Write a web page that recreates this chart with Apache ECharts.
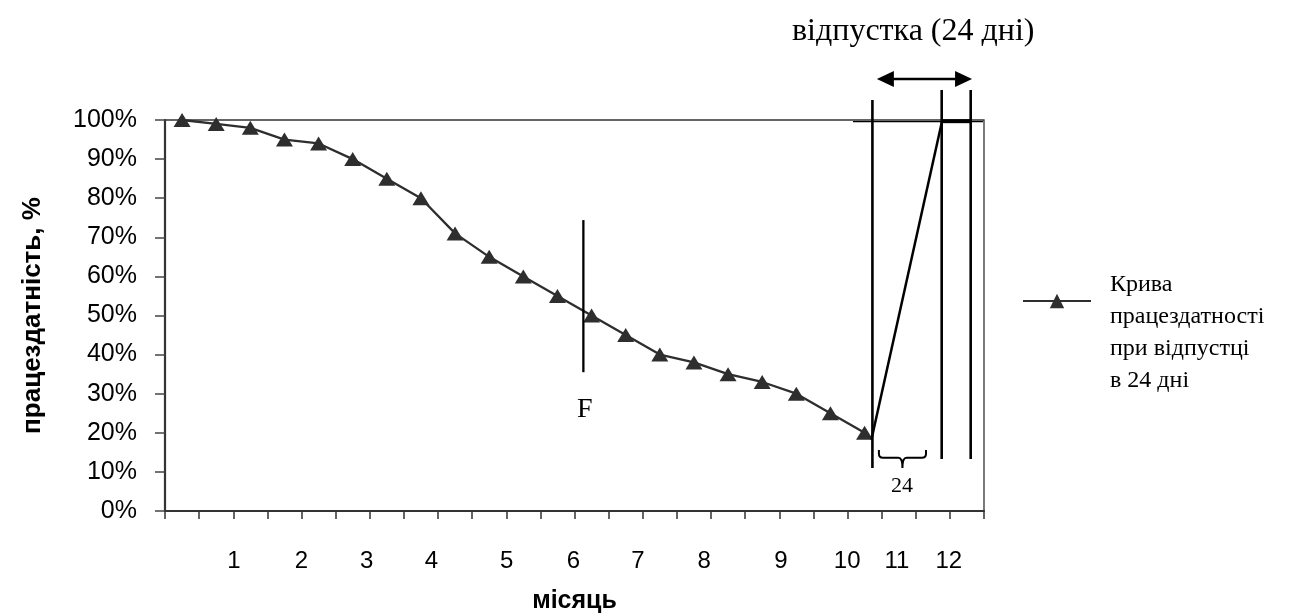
<!DOCTYPE html>
<html>
<head>
<meta charset="utf-8">
<script src="https://cdn.jsdelivr.net/npm/echarts@6/dist/echarts.min.js"></script>
<style>
  html, body { margin: 0; padding: 0; background: #fff; }
  #chart { width: 1306px; height: 614px; }
</style>
</head>
<body>
<div id="chart"></div>
<script>
// Work capacity over the year, sampled every half month (x in half-month units)
const capacity = [100, 99, 98, 95, 94, 90, 85, 80, 71, 65, 60, 55, 50, 45, 40, 38, 35, 33, 30, 25, 20];
const monthLabels = ['1', '2', '3', '4', '5', '6', '7', '8', '9', '10', '11', '12'];
const monthLabelPos = [2.02, 4.0, 5.91, 7.81, 10.01, 11.97, 13.86, 15.8, 18.05, 19.99, 21.45, 22.97];
const yTicks = [0, 10, 20, 30, 40, 50, 60, 70, 80, 90, 100];

// Annotations, in axis units (half-months, %)
const fLine = [[12.26, 35.5], [12.26, 74.4]];
const fLabel = [12.3, 25.8];
const vacationLines = [
  [[20.73, 11.0], [20.73, 105.1]],
  [[22.76, 13.3], [22.76, 107.7]],
  [[23.61, 13.3], [23.61, 107.7]]
];
const recoveryLine = [[20.70, 18.2], [22.77, 99.7]];
const plateauLine = [[22.77, 99.7], [23.61, 99.7]];
const levelLine = [[20.16, 99.6], [23.97, 99.6]];
const vacationArrow = [[20.86, 110.5], [23.65, 110.5]];
const braceSpan = [20.92, 22.30];
const braceLevels = [15.6, 13.6, 11.0];
const braceLabel = [21.6, 6.3];

const seriesName = 'Крива\nпрацездатності\nпри відпустці\nв 24 дні';
const points = capacity.map((v, i) => [i + 0.5, v]);

const SERIF = '"Liberation Serif", "Times New Roman", serif';
const SANS = '"Liberation Sans", Arial, sans-serif';

function renderAnnotations(params, api) {
  const c = (pt) => api.coord(pt);
  const children = [];
  const seg = (a, b, w) => {
    const p1 = c(a), p2 = c(b);
    children.push({ type: 'line', shape: { x1: p1[0], y1: p1[1], x2: p2[0], y2: p2[1] },
      style: { stroke: '#000', lineWidth: w } });
  };
  seg(fLine[0], fLine[1], 2.3);
  vacationLines.forEach(l => seg(l[0], l[1], 2.6));
  seg(recoveryLine[0], recoveryLine[1], 2.5);
  seg(levelLine[0], levelLine[1], 1.3);
  seg(plateauLine[0], plateauLine[1], 4);

  // double-headed arrow
  const a1 = c(vacationArrow[0]), a2 = c(vacationArrow[1]);
  const head = 17, half = 8;
  children.push({ type: 'line', shape: { x1: a1[0] + head - 2, y1: a1[1], x2: a2[0] - head + 2, y2: a2[1] },
    style: { stroke: '#000', lineWidth: 2.6 } });
  children.push({ type: 'polygon', shape: { points: [[a1[0], a1[1]], [a1[0] + head, a1[1] - half], [a1[0] + head, a1[1] + half]] },
    style: { fill: '#000' } });
  children.push({ type: 'polygon', shape: { points: [[a2[0], a2[1]], [a2[0] - head, a2[1] - half], [a2[0] - head, a2[1] + half]] },
    style: { fill: '#000' } });

  // curly brace under the vacation span
  const l = c([braceSpan[0], braceLevels[0]]);
  const r = c([braceSpan[1], braceLevels[0]]);
  const mid = c([braceSpan[0], braceLevels[1]])[1];
  const tip = c([braceSpan[0], braceLevels[2]])[1];
  const cx = (l[0] + r[0]) / 2;
  const rad = 4;
  const d = [
    'M', l[0], l[1],
    'L', l[0], mid - rad,
    'Q', l[0], mid, l[0] + rad, mid,
    'L', cx - rad, mid,
    'Q', cx, mid, cx, tip,
    'Q', cx, mid, cx + rad, mid,
    'L', r[0] - rad, mid,
    'Q', r[0], mid, r[0], mid - rad,
    'L', r[0], r[1]
  ].join(' ');
  children.push({ type: 'path', shape: { pathData: d },
    style: { stroke: '#000', lineWidth: 2, fill: null } });

  const fp = c(fLabel);
  children.push({ type: 'text', style: { text: 'F', x: fp[0], y: fp[1], align: 'center', verticalAlign: 'middle',
    font: '28px ' + SERIF, fill: '#000' } });
  const bp = c(braceLabel);
  children.push({ type: 'text', style: { text: '24', x: bp[0], y: bp[1], align: 'center', verticalAlign: 'middle',
    font: '22px ' + SERIF, fill: '#000' } });

  return { type: 'group', children };
}

const chart = echarts.init(document.getElementById('chart'), null, { renderer: 'canvas' });
chart.setOption({
  animation: false,
  backgroundColor: '#fff',
  title: {
    text: 'відпустка (24 дні)',
    left: 792,
    top: 16,
    padding: 0,
    textStyle: { fontFamily: SERIF, fontSize: 32, fontWeight: 'normal', color: '#000' }
  },
  legend: {
    data: [seriesName],
    left: 1017,
    top: 200,
    orient: 'vertical',
    itemWidth: 68,
    itemHeight: 18,
    selectedMode: false,
    // two leading blank lines drop the text block so its first line sits above the icon
    formatter: (name) => '\n\n' + name,
    textStyle: {
      fontFamily: SERIF, fontSize: 24, color: '#000', lineHeight: 32,
      padding: [0, 0, 0, 14]
    }
  },
  grid: {
    left: 165, right: 322, top: 120, bottom: 103,
    outerBoundsMode: 'none',
    containLabel: false,
    show: true, borderColor: '#333', borderWidth: 1.3, backgroundColor: 'transparent'
  },
  xAxis: [
    {
      type: 'value', min: 0, max: 24, interval: 1,
      axisLine: { onZero: false, lineStyle: { color: '#333', width: 2 } },
      axisTick: { show: true, length: 8, lineStyle: { color: '#333', width: 1.5 } },
      axisLabel: { show: false },
      splitLine: { show: false },
      name: 'місяць',
      nameLocation: 'middle',
      nameGap: 78,
      nameTextStyle: { fontFamily: SANS, fontSize: 25, fontWeight: 'bold', color: '#000' }
    },
    {
      type: 'value', min: 0, max: 24, position: 'bottom',
      axisLine: { show: false },
      axisTick: { show: false },
      splitLine: { show: false },
      axisLabel: {
        show: true,
        customValues: monthLabelPos,
        margin: 38,
        fontFamily: SANS, fontSize: 24, color: '#000',
        formatter: (v) => {
          const i = monthLabelPos.findIndex(p => Math.abs(p - v) < 1e-6);
          return i >= 0 ? monthLabels[i] : '';
        }
      }
    }
  ],
  yAxis: {
    type: 'value', min: 0, max: 100, interval: 10,
    axisLine: { show: true, onZero: false, lineStyle: { color: '#333', width: 2.2 } },
    axisTick: { show: true, length: 10, lineStyle: { color: '#444', width: 1.5 } },
    axisLabel: {
      margin: 28, fontFamily: SANS, fontSize: 25, color: '#000',
      formatter: (v) => yTicks.includes(v) ? v + '%' : ''
    },
    splitLine: { show: false },
    name: 'працездатність, %',
    nameLocation: 'middle',
    nameGap: 119,
    nameRotate: 90,
    nameTextStyle: { fontFamily: SANS, fontSize: 26, fontWeight: 'bold', color: '#000' }
  },
  series: [
    {
      name: seriesName,
      type: 'line',
      data: points,
      symbol: 'triangle',
      symbolSize: [17, 14],
      itemStyle: { color: '#2e2e2e' },
      lineStyle: { color: '#2e2e2e', width: 2.3 },
      z: 3
    },
    {
      type: 'custom',
      coordinateSystem: 'cartesian2d',
      data: [[0, 0]],
      renderItem: renderAnnotations,
      clip: false,
      silent: true,
      z: 4
    }
  ]
});
</script>
</body>
</html>
